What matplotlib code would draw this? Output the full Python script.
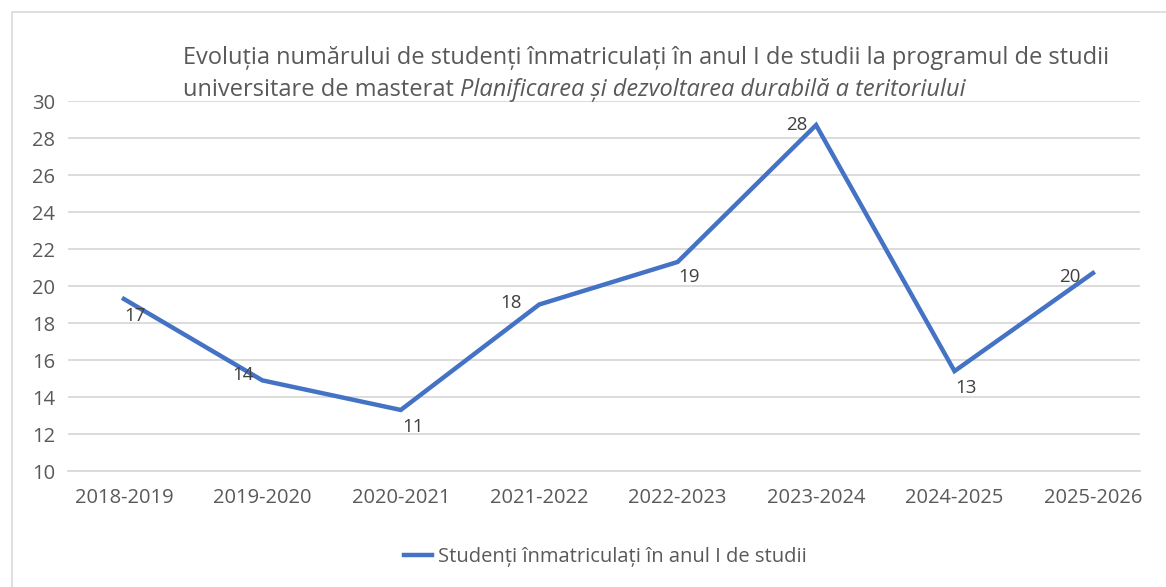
import matplotlib.pyplot as plt
from matplotlib.lines import Line2D
from matplotlib.patches import Rectangle

# data
years = ["2018-2019", "2019-2020", "2020-2021", "2021-2022",
         "2022-2023", "2023-2024", "2024-2025", "2025-2026"]
line_values = [19.3, 14.9, 13.3, 19.0, 21.3, 28.7, 15.4, 20.7]
label_values = ["17", "14", "11", "18", "19", "28", "13", "20"]
label_offsets = [(8, -12), (-14, 4), (9, -12), (-20, 1),
                 (8, -11), (-14, 0), (8, -12), (-17, -3)]
y_ticks = [10, 12, 14, 16, 18, 20, 22, 24, 26, 28, 30]

series_name = "Studenți înmatriculați în anul I de studii"
title_line1 = ("Evoluția numărului de studenți înmatriculați în anul I de studii "
               "la programul de studii")
title_line2_regular = "universitare de masterat "
title_line2_italic = "Planificarea și dezvoltarea durabilă a teritoriului"

FONT = "Open Sans"
BLUE = "#4472C4"
GRID = "#D9D9D9"
TEXT = "#595959"


def main() -> None:
    plt.rcParams["font.family"] = [FONT, "DejaVu Sans"]

    fig = plt.figure(figsize=(11.66, 5.87), dpi=100)
    ax = fig.add_axes([0.0583, 0.1976, 0.9194, 0.6303])

    # outer chart border
    fig.patches.append(Rectangle((12 / 1166, -0.01), 1.0, 1 - 12 / 587 + 0.01,
                                 transform=fig.transFigure, fill=False,
                                 edgecolor="#D9D9D9", linewidth=1.2))

    x = list(range(len(years)))
    ax.plot(x, line_values, color=BLUE, linewidth=3.2, solid_joinstyle="miter",
            zorder=3)

    for xi, yi, txt, off in zip(x, line_values, label_values, label_offsets):
        ax.annotate(txt, (xi, yi), xytext=off, textcoords="offset points",
                    ha="center", va="center", fontsize=13.5, color="#404040",
                    zorder=4)

    ax.set_ylim(10, 30)
    ax.set_yticks(y_ticks)
    ax.set_xlim(-0.404, 7.34)
    ax.set_xticks(x)
    ax.set_xticklabels(years)
    ax.grid(axis="y", color=GRID, linewidth=1.3)
    ax.set_axisbelow(True)
    for side in ["top", "right", "left"]:
        ax.spines[side].set_visible(False)
    ax.spines["bottom"].set_color(GRID)
    ax.spines["bottom"].set_linewidth(1.3)
    ax.tick_params(axis="both", length=0, labelsize=14.5, labelcolor=TEXT)
    ax.tick_params(axis="x", pad=12)
    ax.tick_params(axis="y", pad=9)

    # title, two lines, second one partly italic
    fig.text(183 / 1166, 1 - 58 / 587, title_line1, fontsize=17,
             color=TEXT, ha="left", va="center")
    t2 = fig.text(183 / 1166, 1 - 90 / 587, title_line2_regular, fontsize=17,
                  color=TEXT, ha="left", va="center")
    ax.annotate(title_line2_italic, xy=(1, 0), xycoords=t2, va="bottom",
                ha="left", fontsize=17, color=TEXT, style="italic",
                annotation_clip=False)

    handle = Line2D([], [], color=BLUE, linewidth=3.2)
    fig.legend([handle], [series_name], loc="center",
               bbox_to_anchor=(605 / 1166, 1 - 557 / 587), frameon=False,
               fontsize=14.5, labelcolor=TEXT, handlelength=1.4,
               handletextpad=0.3)

    fig.savefig("out.png", dpi=100)


if __name__ == "__main__":
    main()
